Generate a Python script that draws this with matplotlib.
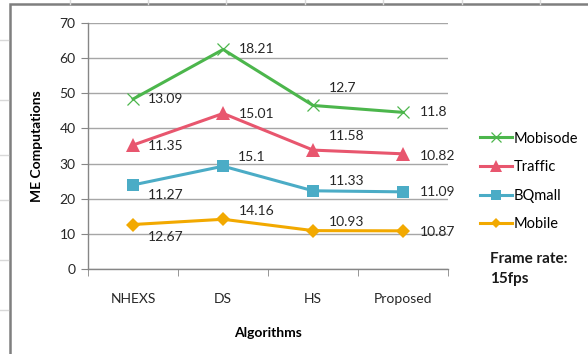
import matplotlib.pyplot as plt
import numpy as np
from matplotlib.lines import Line2D
from matplotlib.patches import Rectangle

plt.rcParams['font.family'] = ['Lato', 'DejaVu Sans']

algorithms = ['NHEXS', 'DS', 'HS', 'Proposed']
mobile = [12.67, 14.16, 10.93, 10.87]
bqmall = [11.27, 15.1, 11.33, 11.09]
traffic = [11.35, 15.01, 11.58, 10.82]
mobisode = [13.09, 18.21, 12.7, 11.8]

# stacked lines, bottom to top
series = [
    ('Mobile', mobile, '#f2a900', 'D', 7, [(15, -12), (16, 8), (16, 9), (17, -1)]),
    ('BQmall', bqmall, '#4bacc6', 's', 9, [(15, -10), (15, 9), (16, 10), (17, 0)]),
    ('Traffic', traffic, '#e8566e', '^', 10, [(15, -1), (16, -1), (16, 14), (17, -2)]),
    ('Mobisode', mobisode, '#4cb64c', 'x', 9, [(15, 0), (16, 0), (16, 17), (17, 0)]),
]

fig = plt.figure(figsize=(5.88, 3.54), dpi=100)
ax = fig.add_axes([0.150, 0.240, 0.612, 0.695])

x = np.arange(len(algorithms))
base = np.zeros(len(algorithms))
handles = {}
for name, vals, color, marker, ms, offs in series:
    top = base + np.array(vals)
    mew = 0.9 if marker == 'x' else 0
    ln, = ax.plot(x, top, color=color, lw=2.2, marker=marker, ms=ms,
                  mec=color, mfc=color, mew=mew, zorder=3)
    handles[name] = ln
    for xi, yi, v, (dx, dy) in zip(x, top, vals, offs):
        ax.annotate(f'{v:g}', (xi, yi), xytext=(dx, dy), textcoords='offset pixels',
                    ha='left', va='center', fontsize=10, color='#262626')
    base = top

ax.set_xlim(-0.5, 3.5)
ax.set_ylim(0, 70)
ax.set_yticks(range(0, 71, 10))
ax.set_xticks(x)
ax.set_xticklabels(algorithms)
ax.set_xticks(np.arange(-0.5, 3.6, 1), minor=True)
ax.tick_params(axis='x', which='major', length=0, pad=17, labelsize=10, labelcolor='#262626')
ax.tick_params(axis='x', which='minor', length=5, color='#868686', direction='out')
ax.tick_params(axis='y', length=5, color='#868686', labelsize=10, labelcolor='#262626', pad=4)
ax.grid(axis='y', color='#a6a6a6', lw=1)
ax.set_axisbelow(True)
for side in ['top', 'right']:
    ax.spines[side].set_visible(False)
for side in ['left', 'bottom']:
    ax.spines[side].set_color('#868686')
    ax.spines[side].set_linewidth(1)

ax.set_ylabel('ME Computations', fontsize=10, fontweight='bold', labelpad=12)
ax.set_xlabel('Algorithms', fontsize=10, fontweight='bold', labelpad=16)

order = ['Mobisode', 'Traffic', 'BQmall', 'Mobile']
leg_handles = [Line2D([], [], color=handles[n].get_color(), lw=2.2,
                      marker=handles[n].get_marker(), ms=handles[n].get_markersize() * 0.8,
                      mfc=handles[n].get_color(), mec=handles[n].get_color(),
                      mew=handles[n].get_markeredgewidth()) for n in order]
fig.legend(leg_handles, order, loc='upper left', bbox_to_anchor=(0.806, 0.645),
           frameon=False, fontsize=10.5, handlelength=2.2, handletextpad=0.1,
           labelspacing=1.0, borderaxespad=0)

fig.text(0.833, 0.240, 'Frame rate:\n15fps', fontsize=11, fontweight='bold',
         ha='left', va='center', linespacing=1.5, color='#1a1a1a')

# faint sheet grid behind the chart frame
for gx in [70, 148, 226, 305, 383, 462, 540]:
    fig.add_artist(Line2D([gx / 588, gx / 588], [1 - 4 / 354, 1], color='#d9d9d9', lw=1))
for gy in [40, 100, 155, 200, 260, 310]:
    fig.add_artist(Line2D([0, 8 / 588], [1 - gy / 354, 1 - gy / 354], color='#d9d9d9', lw=1))

# chart frame
fig.add_artist(Rectangle((9.5 / 588, -0.05), 1.1, 1.05 - 4.5 / 354, transform=fig.transFigure,
                         fill=False, edgecolor='#7f7f7f', lw=1.8))

fig.savefig('out.png', dpi=100)
